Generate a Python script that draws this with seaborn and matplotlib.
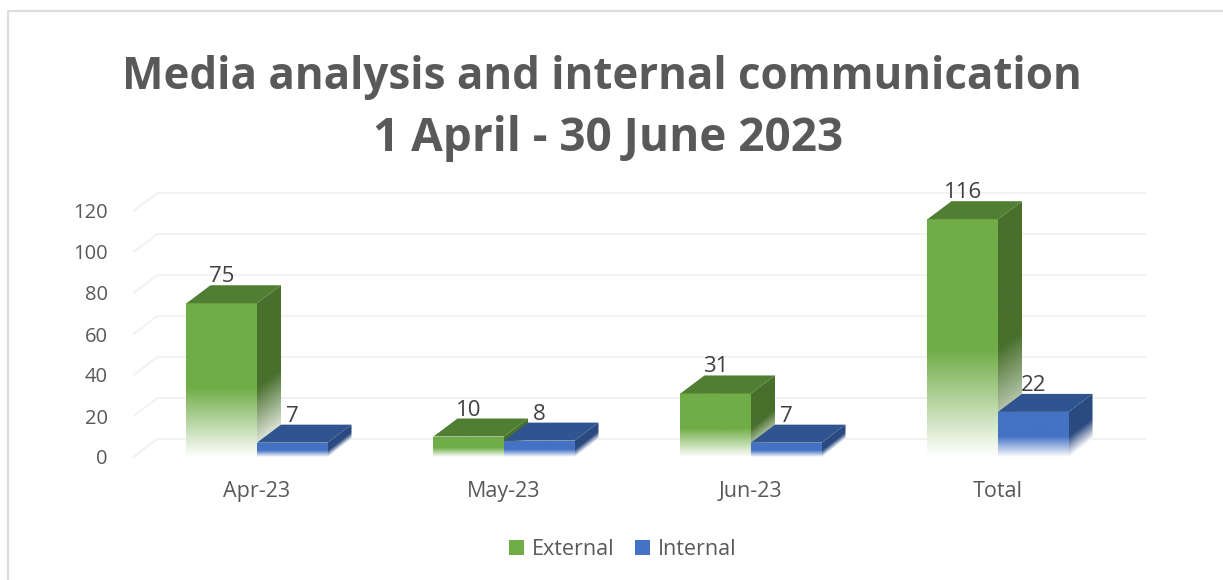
import numpy as np
import pandas as pd
import matplotlib
matplotlib.use("Agg")
import matplotlib.pyplot as plt
from matplotlib.colors import to_rgb
from matplotlib.lines import Line2D
from matplotlib.patches import Polygon, Patch
import seaborn as sns

months = ["Apr-23", "May-23", "Jun-23", "Total"]
external = [75, 10, 31, 116]
internal = [7, 8, 7, 22]
series_names = ["External", "Internal"]
y_ticks = [0, 20, 40, 60, 80, 100, 120]

W, H = 1223, 580
TEXT = "#595959"
front_colors = {"External": "#70ad47", "Internal": "#4472c4"}
top_colors = {"External": "#507e32", "Internal": "#30548f"}
side_colors = {"External": "#48702c", "Internal": "#2a4a80"}

sns.set_theme(style="white")
plt.rcParams["font.family"] = ["Open Sans", "DejaVu Sans"]

df = pd.DataFrame({
    "month": months * 2,
    "series": ["External"] * 4 + ["Internal"] * 4,
    "value": external + internal,
})

fig = plt.figure(figsize=(W / 100, H / 100), dpi=100, facecolor="white")
# plot box in pixels: y=0 at 457, y=120 at 211, categories 247 px apart
ax = fig.add_axes([133.5 / W, 1 - 457 / H, 988 / W, 246 / H])
sns.barplot(data=df, x="month", y="value", hue="series", order=months,
            hue_order=series_names, width=0.571, palette=front_colors,
            legend=False, ax=ax)
ax.set_xlim(-0.5, 3.5)
ax.set_ylim(0, 120)
ax.set_xlabel("")
ax.set_ylabel("")
ax.set_yticks(y_ticks)
sns.despine(ax=ax, left=True, bottom=True)

px_x = 4 / 988      # one pixel in x units
px_y = 120 / 246    # one pixel in y units
dx, dy = 24 * px_x, 18 * px_y

# back wall grid and the slanted side lines
for t in y_ticks:
    ax.plot([-0.5, -0.5 + dx, 3.5 + dx], [t, t + dy, t + dy], color="#f2f2f2",
            lw=1.5, clip_on=False, zorder=0.5)


def draw_face(verts, h, color, z, shear=0.0):
    # white at the base, solid from a bit under half height; side faces fade on the slant
    poly = Polygon(verts, closed=True, transform=ax.transData, fc="none", ec="none")
    ax.add_patch(poly)
    xs = [v[0] for v in verts]
    ys = [v[1] for v in verts]
    xx, yy = np.meshgrid(np.linspace(0, 1, 60), np.linspace(min(ys), max(ys), 300))
    t = np.clip((yy - shear * xx) / (0.45 * h), 0, 1)[:, :, None]
    img = (1 - t) + t * np.array(to_rgb(color))
    im = ax.imshow(img, extent=[min(xs), max(xs), min(ys), max(ys)], origin="lower",
                   aspect="auto", zorder=z, interpolation="bilinear")
    im.set_clip_box(fig.bbox)
    im.set_clip_path(poly)


# seaborn's containers give each bar's place; build the 3D faces on them
z = 2.0
for j in range(len(months)):
    for container, name in zip(ax.containers, series_names):
        bar = container[j]
        x0, w, h = bar.get_x(), bar.get_width(), bar.get_height()
        x1 = x0 + w
        bar.set_visible(False)
        draw_face([(x1, 0), (x1 + dx, dy), (x1 + dx, h + dy), (x1, h)], h,
                  side_colors[name], z, shear=dy)
        draw_face([(x0, 0), (x1, 0), (x1, h), (x0, h)], h, front_colors[name], z + 0.1)
        ax.add_patch(Polygon([(x0, h), (x1, h), (x1 + dx, h + dy), (x0 + dx, h + dy)],
                             closed=True, fc=top_colors[name], ec="none", zorder=z + 0.2,
                             clip_on=False))
        ax.text(x0 + w / 2, h + dy + 8.5 * px_y, str(int(h)), ha="center",
                va="center", fontsize=16, color="#404040", zorder=20, clip_on=False)
        z += 1

ax.set_xlim(-0.5, 3.5)
ax.set_ylim(0, 120)
ax.tick_params(axis="y", length=0, pad=18.4, labelsize=14.5, labelcolor=TEXT)
ax.tick_params(axis="x", length=0, pad=17, labelsize=15.5, labelcolor=TEXT)

fig.text(602 / W, 1 - 77 / H, "Media analysis and internal communication",
         ha="center", va="center", fontsize=31.6, fontweight="bold", color=TEXT)
fig.text(608 / W, 1 - 138 / H, "1 April - 30 June 2023",
         ha="center", va="center", fontsize=33, fontweight="bold", color=TEXT)

handles = [Patch(fc=front_colors[n], ec="none", label=n) for n in series_names]
fig.legend(handles=handles, loc="center", bbox_to_anchor=(622.5 / W, 1 - 549.5 / H), ncol=2,
           frameon=False, fontsize=15.5, labelcolor=TEXT, handlelength=0.7, handleheight=0.7,
           handletextpad=0.37, columnspacing=0.93)

# light frame, top and left only
fig.add_artist(Line2D([8 / W, 8 / W, 1], [0, 1 - 11 / H, 1 - 11 / H],
                      color="#dcdcdc", lw=1.6, transform=fig.transFigure))

fig.savefig("out.png", dpi=100)
